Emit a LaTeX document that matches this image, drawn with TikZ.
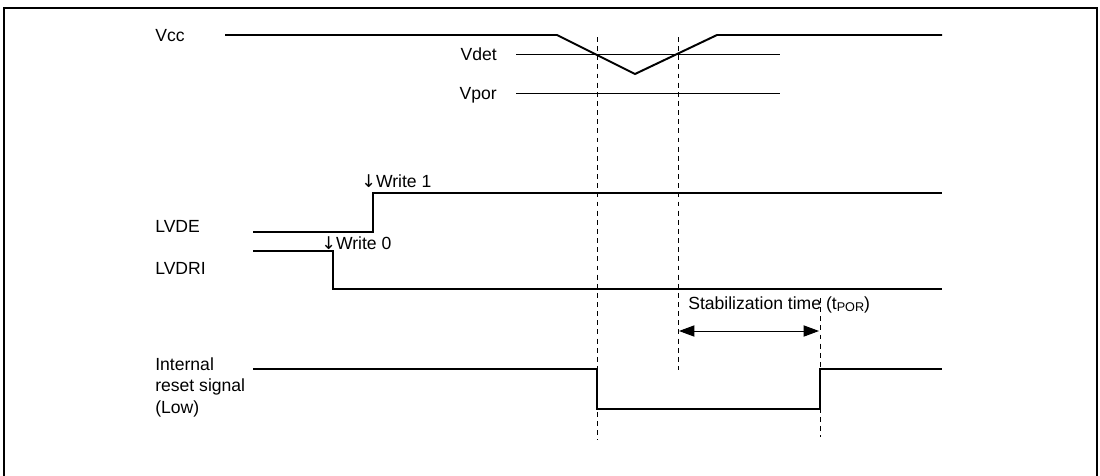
\documentclass[tikz,border=0pt]{standalone}
\usepackage{fontspec}
\setmainfont{Liberation Sans}
\newfontfamily\arrowfont{DejaVu Sans}
\usetikzlibrary{arrows.meta}
\begin{document}
\begin{tikzpicture}[x=0.025cm,y=-0.025cm,
    sig/.style={line width=1.4pt},
    level/.style={line width=0.7pt},
    guide/.style={line width=0.7pt,dash pattern=on 3.5pt off 3pt},
    lbl/.style={inner sep=0pt,anchor=base west,font=\fontsize{12.5}{15.5}\selectfont}]
  \useasboundingbox (0,0) rectangle (1100,475);
  % frame
  \draw[line width=2pt] (4,480) -- (4,8) -- (1097,8) -- (1097,480);

  % Vcc with detection levels
  \draw[sig] (225,35) -- (557,35) -- (635,74) -- (717,35) -- (942,35);
  \draw[level] (516,54) -- (780,54);
  \draw[level] (516,93) -- (780,93);

  % dashed time marks
  \draw[guide] (597,37) -- (597,440);
  \draw[guide] (678,37) -- (678,370);
  \draw[guide] (820,298) -- (820,437);

  % LVDE and LVDRI
  \draw[sig] (253,232) -- (373,232) -- (373,193) -- (942,193);
  \draw[sig] (253,251) -- (333,251) -- (333,289) -- (942,289);

  % internal reset
  \draw[sig] (253,369) -- (597,369) -- (597,409) -- (820,409) -- (820,369) -- (942,369);

  % stabilization time
  \coordinate (stabL) at (679,331);
  \coordinate (stabR) at (819,331);
  \draw[level,{Triangle[length=11pt,width=8pt]}-{Triangle[length=11pt,width=8pt]}] (stabL) -- (stabR);

  % labels
  \node[lbl] (vcc) at (155,41) {Vcc};
  \node[lbl,anchor=base east] (vdet) at (497,60) {Vdet};
  \node[lbl,anchor=base east] (vpor) at (497,99) {Vpor};
  \node[lbl] (lvde) at (155,232) {LVDE};
  \node[lbl] (lvdri) at (155,274) {LVDRI};
  \node[lbl] (write1) at (361,187) {{\arrowfont ↓}Write 1};
  \node[lbl] (write0) at (321,249) {{\arrowfont ↓}Write 0};
  \node[lbl] (stab) at (688,309) {Stabilization time (t{\fontsize{9}{9}\selectfont\raisebox{-0.35ex}{POR}})};
  \node[lbl,anchor=north west,align=left] (rst) at (155,357) {Internal\\reset signal\\(Low)};
\end{tikzpicture}
\end{document}
